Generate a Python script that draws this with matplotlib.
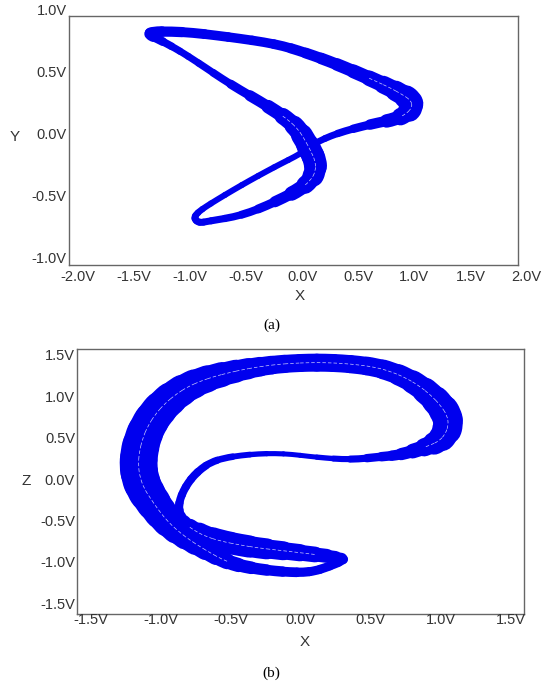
import numpy as np
import matplotlib

matplotlib.use("Agg")
import matplotlib.pyplot as plt
from matplotlib.path import Path
from matplotlib.patches import PathPatch

W_PX, H_PX = 545, 686
DPI = 100
BLUE = "#0000ee"
TXT = "#333333"

# (a) X-Y phase portrait: centre of the band traced once round, band width in px
xy_x = [-1.420, -1.080, -0.660, -0.230, 0.030, 0.307, 0.604, 0.842, 1.010, 0.900,
        0.604, 0.307, 0.096, -0.004, -0.242, -0.539, -0.837, -0.937, -0.964, -0.919,
        -0.837, -0.539, -0.242, 0.054, 0.141, 0.052, -0.058, -0.287, -0.643, -0.940,
        -1.089, -1.237]
xy_y = [0.830, 0.834, 0.790, 0.733, 0.662, 0.571, 0.455, 0.355, 0.255, 0.140,
        0.086, 0.014, -0.072, -0.147, -0.255, -0.402, -0.563, -0.628, -0.672, -0.708,
        -0.694, -0.649, -0.541, -0.402, -0.257, -0.080, 0.080, 0.223, 0.410, 0.590,
        0.676, 0.751]
xy_w = [11, 10, 9.5, 9.5, 10.5, 12, 14.5, 19, 25, 15,
        9, 7, 6.5, 6, 6, 6, 6, 6.5, 7, 7,
        7, 7.5, 9.5, 16, 23, 23, 18, 12, 8, 7,
        7, 8]

# (b) X-Z phase portrait
xz_x = [0.330, 0.211, 0.068, -0.123, -0.361, -0.527, -0.682, -0.825, -0.951, -1.051,
        -1.141, -1.166, -1.118, -1.011, -0.849, -0.670, -0.456, -0.289, -0.123, 0.116,
        0.354, 0.591, 0.806, 0.973, 1.070, 1.020, 0.889, 0.711, 0.591, 0.354,
        0.116, -0.123, -0.361, -0.611, -0.741, -0.825, -0.873, -0.864, -0.804, -0.646,
        -0.361, -0.123, 0.116, 0.259]
xz_z = [-0.948, -1.033, -1.111, -1.105, -1.057, -0.984, -0.839, -0.682, -0.498, -0.275,
        -0.034, 0.248, 0.589, 0.872, 1.101, 1.234, 1.326, 1.377, 1.411, 1.428,
        1.411, 1.355, 1.200, 0.972, 0.731, 0.500, 0.400, 0.310, 0.290, 0.250,
        0.280, 0.329, 0.320, 0.256, 0.106, -0.075, -0.275, -0.437, -0.562, -0.707,
        -0.803, -0.848, -0.896, -0.924]
xz_w = [8, 9, 9, 10, 12, 15, 19, 24, 30, 34,
        37, 38, 36, 34, 30, 26, 22, 19, 18, 18,
        18, 19, 22, 27, 31, 25, 16, 11, 9, 6.5,
        5, 5, 5.5, 7, 8, 8, 8, 9.5, 15, 23,
        22, 18, 15, 11]

XY_XTICKS = [-2.0, -1.5, -1.0, -0.5, 0.0, 0.5, 1.0, 1.5, 2.0]
XY_YTICKS = [-1.0, -0.5, 0.0, 0.5, 1.0]
XZ_XTICKS = [-1.5, -1.0, -0.5, 0.0, 0.5, 1.0, 1.5]
XZ_YTICKS = [-1.5, -1.0, -0.5, 0.0, 0.5, 1.0, 1.5]


def px_box(left, top, right, bottom):
    return [left / W_PX, 1 - bottom / H_PX, (right - left) / W_PX, (bottom - top) / H_PX]


def band_pieces(xs, ys, widths):
    # closed smooth curve: quadratic pieces through the midpoints, each split in two
    p = np.column_stack([xs, ys])
    w = np.asarray(widths, dtype=float)
    mids = (p + np.roll(p, -1, axis=0)) / 2
    pieces = []
    for i in range(len(p)):
        a, c, b = mids[i - 1], p[i], mids[i]
        m = (a + 2 * c + b) / 4
        w_prev, w_next = w[i - 1], w[(i + 1) % len(w)]
        pieces.append(([a, (a + c) / 2, m], (w_prev + 3 * w[i]) / 4))
        pieces.append(([m, (c + b) / 2, b], (3 * w[i] + w_next) / 4))
    return pieces


def draw_band(ax, xs, ys, widths):
    codes = [Path.MOVETO, Path.CURVE3, Path.CURVE3]
    pieces = band_pieces(xs, ys, widths)
    for verts, wpx in pieces:
        ax.add_patch(PathPatch(Path(verts, codes), fill=False, edgecolor=BLUE,
                               lw=wpx * 72 / DPI, capstyle="round", joinstyle="round"))
    # faint white streaks inside the thick parts of the band
    for verts, wpx in pieces:
        if wpx >= 15:
            ax.add_patch(PathPatch(Path(verts, codes), fill=False, edgecolor="white",
                                   lw=0.5, ls=(0, (5, 3)), alpha=0.8))


def style_axes(ax, xticks, yticks, xpad, ypad):
    ax.set_xticks([])
    ax.set_yticks([])
    for sp in ax.spines.values():
        sp.set_color("#666666")
        sp.set_linewidth(1.0)
    for v in xticks:
        ax.annotate(f"{v:.1f}V", xy=(v, 0), xycoords=("data", "axes fraction"),
                    xytext=(0, -xpad), textcoords="offset points", ha="center", va="center",
                    fontsize=10.5, color=TXT, family="Liberation Sans", annotation_clip=False)
    for v in yticks:
        ax.annotate(f"{v:.1f}V", xy=(0, v), xycoords=("axes fraction", "data"),
                    xytext=(-ypad, 0), textcoords="offset points", ha="right", va="center",
                    fontsize=10.5, color=TXT, family="Liberation Sans", annotation_clip=False)


def fig_text(fig, x, y, s, **kw):
    fig.text(x / W_PX, 1 - y / H_PX, s, ha="center", va="center", **kw)


fig = plt.figure(figsize=(W_PX / DPI, H_PX / DPI), dpi=DPI)

ax_a = fig.add_axes(px_box(69, 15.7, 518, 265))
draw_band(ax_a, xy_x, xy_y, xy_w)
ax_a.set_xlim(-2.077, 1.923)
ax_a.set_ylim(-1.046, 0.96)
style_axes(ax_a, XY_XTICKS, XY_YTICKS, 8.4, 1.6)

ax_b = fig.add_axes(px_box(76.7, 349.3, 524, 614))
draw_band(ax_b, xz_x, xz_z, xz_w)
ax_b.set_xlim(-1.6, 1.596)
ax_b.set_ylim(-1.612, 1.585)
style_axes(ax_b, XZ_XTICKS, XZ_YTICKS, 4.5, 1.2)

lab = dict(fontsize=11, color=TXT, family="Liberation Sans")
fig_text(fig, 14.6, 136.7, "Y", **lab)
fig_text(fig, 299.4, 296, "X", **lab)
fig_text(fig, 26.3, 480.7, "Z", **lab)
fig_text(fig, 304.4, 641.7, "X", **lab)
cap = dict(fontsize=11, color="black", family="Liberation Serif")
fig_text(fig, 272, 325, "(a)", **cap)
fig_text(fig, 271.4, 673.3, "(b)", **cap)

fig.savefig("out.png", dpi=DPI)
